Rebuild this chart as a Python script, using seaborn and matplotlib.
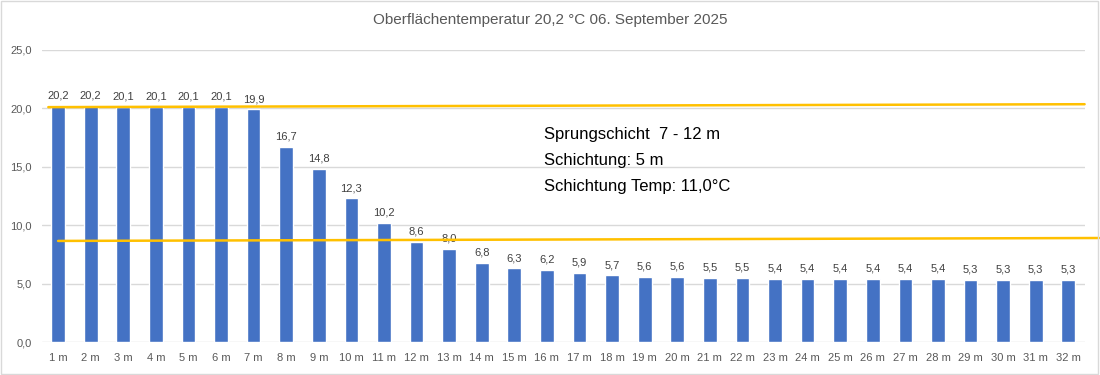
import numpy as np
import pandas as pd
import matplotlib
matplotlib.use('Agg')
import matplotlib.pyplot as plt
import seaborn as sns

# ── Data ──────────────────────────────────────────────────────────────────────
depths = [f'{i} m' for i in range(1, 33)]
temps = [20.2, 20.2, 20.1, 20.1, 20.1, 20.1, 19.9, 16.7, 14.8, 12.3, 10.2, 8.6,
         8.0, 6.8, 6.3, 6.2, 5.9, 5.7, 5.6, 5.6, 5.5, 5.5, 5.4, 5.4,
         5.4, 5.4, 5.4, 5.4, 5.3, 5.3, 5.3, 5.3]

# hand-drawn yellow marker lines (x in category units, y in °C)
upper_x = [-0.3, 31.5]
upper_y = [20.1, 20.35]
lower_x = [0.0, 31.95]
lower_y = [8.65, 8.9]

title = 'Oberflächentemperatur 20,2 °C 06. September 2025'
info_lines = ['Sprungschicht  7 - 12 m', 'Schichtung: 5 m', 'Schichtung Temp: 11,0°C']

df = pd.DataFrame({'depth': depths, 'temp': temps})

# ── Plot ──────────────────────────────────────────────────────────────────────
sns.set_style('white')
plt.rcParams['font.family'] = ['Liberation Sans', 'DejaVu Sans']

fig = plt.figure(figsize=(11, 3.75), dpi=100)
ax = fig.add_axes([0.038, 0.088, 0.948, 0.779])

sns.barplot(data=df, x='depth', y='temp', color='#4472C4', width=0.42,
            saturation=1, ax=ax, zorder=2)

for i, v in enumerate(temps):
    ax.text(i, v + 0.45, f'{v:.1f}'.replace('.', ','), ha='center', va='bottom',
            fontsize=8, color='#404040')

ax.plot(upper_x, upper_y, color='#FFC000', lw=1.8, zorder=3, clip_on=False)
ax.plot(lower_x, lower_y, color='#FFC000', lw=1.8, zorder=3, clip_on=False)

ax.set_xlim(-0.5, 31.5)
ax.set_ylim(0, 25)
ax.set_yticks(np.arange(0, 26, 5))
ax.set_yticklabels([f'{t:.1f}'.replace('.', ',') for t in np.arange(0, 26, 5)])
ax.yaxis.grid(True, color='#D9D9D9', lw=1, zorder=0)
ax.set_axisbelow(True)
for s in ax.spines.values():
    s.set_visible(False)
ax.tick_params(axis='both', length=0, labelsize=8, colors='#595959')
ax.tick_params(axis='x', pad=8)
ax.tick_params(axis='y', pad=7)
ax.set_xlabel('')
ax.set_ylabel('')

fig.text(0.5, 0.947, title, ha='center', va='center', fontsize=11, color='#595959')

for k, line in enumerate(info_lines):
    fig.text(0.495, 1 - (135 + 26 * k) / 375, line, ha='left', va='center',
             fontsize=12, color='black')

# light frame around the whole picture
fig.patches.append(plt.Rectangle((0.001, 0.002), 0.997, 0.995, transform=fig.transFigure,
                                 fill=False, edgecolor='#D9D9D9', lw=1))

plt.savefig('out.png', dpi=100)
